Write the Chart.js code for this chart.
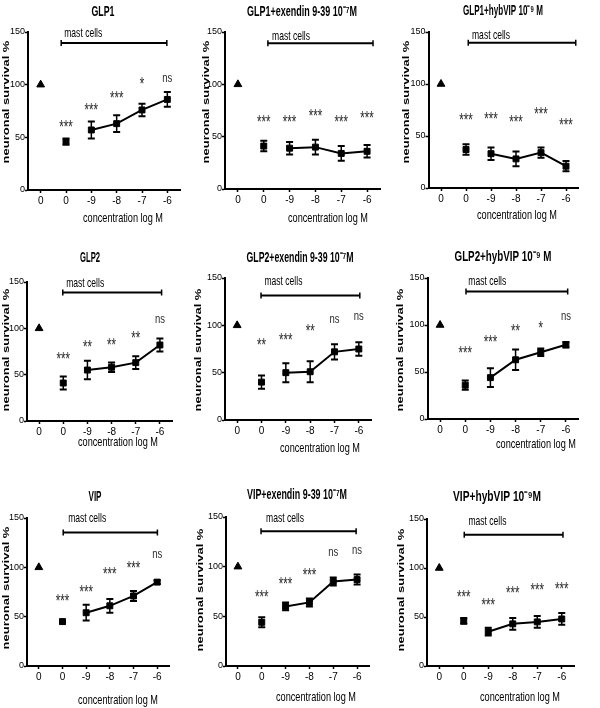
<!DOCTYPE html>
<html>
<head>
<meta charset="utf-8">
<script src="https://cdn.jsdelivr.net/npm/chart.js@4.4.1/dist/chart.umd.min.js"></script>
<style>
  html, body { margin: 0; padding: 0; background: #fff; }
  #figure { position: relative; width: 600px; height: 708px; overflow: hidden; background: #fff; }
  #figure canvas { position: absolute; }
</style>
</head>
<body>
<div id="figure"></div>
<script>
// x categories: control, mast cells alone, then peptide log M
const categories = ["0", "0", "-9", "-8", "-7", "-6"];
const yTickStep = 50;
const yMax = 150;

const panelTitles = [
  "GLP1", "GLP1+exendin 9-39 10⁻⁷M", "GLP1+hybVIP 10⁻⁹ M",
  "GLP2", "GLP2+exendin 9-39 10⁻⁷M", "GLP2+hybVIP 10⁻⁹ M",
  "VIP", "VIP+exendin 9-39 10⁻⁷M", "VIP+hybVIP 10⁻⁹M"
];

const controlSurvival = [100, 100, 100, 100, 100, 100, 100, 100, 100];

// mast cells alone, -9, -8, -7, -6
const meanSurvival = [
  [46, 57, 63, 76, 86],
  [41, 39, 40, 34, 36],
  [37, 33, 28, 34, 21],
  [41, 55, 58, 63, 82],
  [40, 50, 51, 72, 75],
  [36, 44, 63, 71, 79],
  [45, 54, 61, 71, 85],
  [44, 60, 64, 85, 87],
  [46, 35, 43, 45, 48]
];

const errSurvival = [
  [3, 8, 8, 6, 7],
  [5, 6, 7, 7, 6],
  [5, 6, 7, 5, 5],
  [7, 10, 5, 7, 7],
  [7, 10, 11, 8, 7],
  [5, 10, 11, 4, 3],
  [2, 8, 7, 5, 2],
  [5, 4, 4, 4, 5],
  [3, 4, 6, 6, 6]
];

const sigMarks = [
  ["***", "***", "***", "*", "ns"],
  ["***", "***", "***", "***", "***"],
  ["***", "***", "***", "***", "***"],
  ["***", "**", "**", "**", "ns"],
  ["**", "***", "**", "ns", "ns"],
  ["***", "***", "**", "*", "ns"],
  ["***", "***", "***", "***", "ns"],
  ["***", "***", "***", "ns", "ns"],
  ["***", "***", "***", "***", "***"]
];

// height (in % units) where each mark sits
const sigLevels = [
  [64, 80, 91, 104, 106],
  [68, 68, 74, 68, 72],
  [69, 70, 67, 75, 64],
  [71, 84, 86, 94, 109],
  [83, 89, 98, 106, 109],
  [74, 86, 98, 101, 109],
  [70, 79, 97, 103, 113],
  [73, 87, 96, 114, 116],
  [74, 66, 79, 82, 83]
];

// page geometry of each panel (plot area, titles, "mast cells" bar)
const panelBoxes = [
  { left: 28, right: 180, top: 32, bottom: 190, tx: 103, ty: 12, tw: 23, xtx: 123, xty: 218, ytx: 6, yty: 102, b0: 0.81, b1: 4.98, bv: 139.6, bl: 0.93, bdy: 10 },
  { left: 225, right: 380, top: 32, bottom: 189, tx: 302, ty: 12, tw: 110, xtx: 328, xty: 218, ytx: 206.5, yty: 102, b0: 1.16, b1: 5.23, bv: 139.2, bl: 1.32, bdy: 7 },
  { left: 428.5, right: 578.5, top: 32, bottom: 188, tx: 503, ty: 11, tw: 80, xtx: 517, xty: 215, ytx: 406.5, yty: 102, b0: 1.09, b1: 5.39, bv: 139.7, bl: 1.24, bdy: 7 },
  { left: 27, right: 172, top: 282, bottom: 421, tx: 90, ty: 258, tw: 20, xtx: 118, xty: 442, ytx: 6.5, yty: 350, b0: 0.98, b1: 5.07, bv: 138.6, bl: 1.12, bdy: 9 },
  { left: 225, right: 371, top: 278, bottom: 420, tx: 300, ty: 258, tw: 107, xtx: 320, xty: 448, ytx: 198, yty: 350, b0: 0.98, b1: 5.04, bv: 131.6, bl: 1.12, bdy: 14 },
  { left: 427.5, right: 578.5, top: 278, bottom: 419, tx: 503, ty: 257, tw: 97, xtx: 536, xty: 444, ytx: 400, yty: 350, b0: 1.03, b1: 5.07, bv: 135.7, bl: 1.12, bdy: 10 },
  { left: 27, right: 169, top: 518, bottom: 666, tx: 95, ty: 497, tw: 13, xtx: 118, xty: 700, ytx: 6.5, yty: 588, b0: 1.03, b1: 5.01, bv: 135.4, bl: 1.24, bdy: 14 },
  { left: 226, right: 369, top: 517, bottom: 666, tx: 297, ty: 495, tw: 100, xtx: 316, xty: 697, ytx: 200, yty: 590, b0: 0.97, b1: 4.96, bv: 135.6, bl: 1.18, bdy: 13 },
  { left: 427, right: 574, top: 519, bottom: 666, tx: 497, ty: 497, tw: 88, xtx: 520, xty: 697, ytx: 401, yty: 590, b0: 1.02, b1: 5.05, bv: 134, bl: 1.19, bdy: 13 }
];

const rowTops = [0, 230, 470];
const rowHeights = [230, 240, 238];
const yAxisWidth = 22;
const xAxisHeight = 20;

const SANS = '"Liberation Sans", Arial, sans-serif';
const NARROW = '"Liberation Sans Narrow", "Arial Narrow", "Liberation Sans", Arial, sans-serif';

Chart.defaults.font.family = NARROW;
Chart.defaults.color = "#000";

const panelDecor = {
  id: "panelDecor",
  beforeDatasetsDraw(chart, args, opts) {
    const i = opts.panel;
    const { ctx } = chart;
    const xs = chart.scales.x;
    const ys = chart.scales.y;
    ctx.save();
    ctx.strokeStyle = "#000";
    meanSurvival[i].forEach((m, k) => {
      const e = errSurvival[i][k];
      const x = xs.getPixelForValue(k + 1);
      const yTop = ys.getPixelForValue(m + e);
      const yBot = ys.getPixelForValue(m - e);
      ctx.lineWidth = 1.5;
      ctx.beginPath();
      ctx.moveTo(x, yTop);
      ctx.lineTo(x, yBot);
      ctx.stroke();
      ctx.lineWidth = 2;
      ctx.beginPath();
      ctx.moveTo(x - 3.5, yTop);
      ctx.lineTo(x + 3.5, yTop);
      ctx.moveTo(x - 3.5, yBot);
      ctx.lineTo(x + 3.5, yBot);
      ctx.stroke();
    });
    ctx.restore();
  },
  afterDraw(chart, args, opts) {
    const i = opts.panel;
    const ox = opts.ox;
    const oy = opts.oy;
    const box = panelBoxes[i];
    const { ctx } = chart;
    const xs = chart.scales.x;
    const ys = chart.scales.y;
    ctx.save();
    ctx.fillStyle = "#000";
    ctx.strokeStyle = "#000";

    // panel title
    ctx.font = "bold 15px " + SANS;
    ctx.textAlign = "center";
    ctx.textBaseline = "middle";
    ctx.fillText(panelTitles[i], box.tx - ox, box.ty - oy, box.tw);

    // axis titles
    ctx.font = "13px " + SANS;
    ctx.fillText("concentration log M", box.xtx - ox, box.xty - oy, 80);

    // y title is squeezed across its glyphs, like the printed figure
    ctx.save();
    ctx.translate(box.ytx - ox, box.yty - oy);
    ctx.rotate(-Math.PI / 2);
    ctx.scale(1, 0.72);
    ctx.font = "bold 13px " + SANS;
    ctx.fillText("neuronal survival %", 0, 0);
    ctx.restore();

    // mast cells bar
    const bx0 = xs.getPixelForValue(box.b0);
    const bx1 = xs.getPixelForValue(box.b1);
    const by = ys.getPixelForValue(box.bv);
    ctx.lineWidth = 2;
    ctx.beginPath();
    ctx.moveTo(bx0, by);
    ctx.lineTo(bx1, by);
    ctx.stroke();
    ctx.lineWidth = 1.5;
    ctx.beginPath();
    ctx.moveTo(bx0, by - 3);
    ctx.lineTo(bx0, by + 3);
    ctx.moveTo(bx1, by - 3);
    ctx.lineTo(bx1, by + 3);
    ctx.stroke();

    ctx.font = "13px " + SANS;
    ctx.textAlign = "left";
    ctx.fillText("mast cells", xs.getPixelForValue(box.bl), by - box.bdy, 38);

    // significance marks
    ctx.fillStyle = "#2a2a2a";
    ctx.textAlign = "center";
    ctx.textBaseline = "alphabetic";
    sigMarks[i].forEach((mark, k) => {
      const x = xs.getPixelForValue(k + 1);
      const y = ys.getPixelForValue(sigLevels[i][k]);
      if (mark === "ns") {
        ctx.font = "13px " + SANS;
        ctx.fillText(mark, x, y + 3.5, 10);
      } else {
        ctx.font = "18px " + SANS;
        ctx.fillText(mark, x, y + 10, mark.length * 4.5);
      }
    });
    ctx.restore();
  }
};

const figure = document.getElementById("figure");

panelTitles.forEach((title, i) => {
  const row = Math.floor(i / 3);
  const col = i % 3;
  const box = panelBoxes[i];
  const cLeft = col === 0 ? 0 : col * 200 - 12;
  const cTop = rowTops[row];
  const cWidth = 212;
  const cHeight = rowHeights[row];

  const canvas = document.createElement("canvas");
  canvas.width = cWidth;
  canvas.height = cHeight;
  canvas.style.left = cLeft + "px";
  canvas.style.top = cTop + "px";
  canvas.style.width = cWidth + "px";
  canvas.style.height = cHeight + "px";
  figure.append(canvas);

  const means = meanSurvival[i];

  new Chart(canvas, {
    type: "line",
    data: {
      labels: categories,
      datasets: [
        {
          data: categories.map((c, k) => (k === 0 ? controlSurvival[i] : null)),
          showLine: false,
          pointStyle: "triangle",
          pointRadius: 4.5,
          pointBackgroundColor: "#000",
          pointBorderColor: "#000",
          pointBorderWidth: 1
        },
        {
          data: categories.map((c, k) => (k === 1 ? means[0] : null)),
          showLine: false,
          pointStyle: "rect",
          pointRadius: 4.2,
          pointBackgroundColor: "#000",
          pointBorderColor: "#000",
          pointBorderWidth: 1
        },
        {
          data: categories.map((c, k) => (k >= 2 ? means[k - 1] : null)),
          borderColor: "#000",
          borderWidth: 2,
          tension: 0,
          pointStyle: "rect",
          pointRadius: 4.2,
          pointBackgroundColor: "#000",
          pointBorderColor: "#000",
          pointBorderWidth: 1
        }
      ]
    },
    options: {
      responsive: false,
      animation: false,
      devicePixelRatio: 1,
      layout: {
        padding: {
          left: box.left - cLeft - yAxisWidth,
          right: cLeft + cWidth - box.right,
          top: box.top - cTop,
          bottom: cTop + cHeight - box.bottom - xAxisHeight
        }
      },
      plugins: {
        legend: { display: false },
        title: { display: false },
        tooltip: { enabled: false },
        panelDecor: { panel: i, ox: cLeft, oy: cTop }
      },
      scales: {
        x: {
          type: "category",
          offset: true,
          afterFit: (scale) => { scale.height = xAxisHeight; },
          grid: { offset: false, drawOnChartArea: false, tickLength: 3, tickColor: "#000", tickWidth: 1.5 },
          border: { display: true, color: "#000", width: 2 },
          ticks: { font: { size: 10 }, color: "#000", padding: 2, maxRotation: 0, autoSkip: false }
        },
        y: {
          min: 0,
          max: yMax,
          afterFit: (scale) => { scale.width = yAxisWidth; },
          grid: { drawOnChartArea: false, tickLength: 3, tickColor: "#000", tickWidth: 1.5 },
          border: { display: true, color: "#000", width: 2 },
          ticks: { stepSize: yTickStep, font: { size: 9 }, color: "#000", padding: 0 }
        }
      }
    },
    plugins: [panelDecor]
  });
});
</script>
</body>
</html>
